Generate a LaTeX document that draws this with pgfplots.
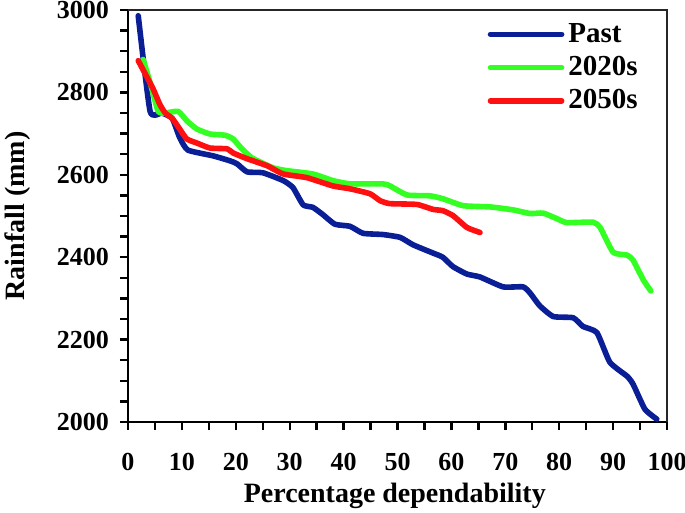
\documentclass[border=0pt]{standalone}
\usepackage{pgfplots}
\pgfplotsset{compat=1.18}
\usepackage{fontspec}
\setmainfont{Liberation Serif}
\definecolor{cpast}{HTML}{0A1E96}
\definecolor{c2020}{HTML}{33FF22}
\definecolor{c2050}{HTML}{FF1010}
\begin{document}
\begin{tikzpicture}
\begin{axis}[
  scale only axis,
  width=269.5pt, height=206pt,
  xmin=0, xmax=100, ymin=2000, ymax=3000,
  xtick={0,10,...,100}, ytick={2000,2200,...,3000},
  minor xtick={5,15,...,95}, minor ytick={2050,2100,...,2950},
  axis x line*=bottom, axis y line*=left,
  tick align=outside,
  major tick length=4pt, minor tick length=4pt,
  tick style={black, line width=1.2pt},
  axis line style={black, line width=1.4pt, -},
  /pgf/number format/assume math mode=true,
  /pgf/number format/1000 sep={},
  ticklabel style={font=\fontsize{13}{15}\selectfont\bfseries},
  xticklabel style={anchor=center, yshift=-16pt},
  yticklabel style={xshift=-2pt},
  xlabel={Percentage dependability},
  ylabel={Rainfall (mm)},
  xlabel style={at={(axis description cs:0.495,-0.18)}, anchor=center},
  ylabel style={at={(axis description cs:-0.205,0.5)}, anchor=center, rotate=0},
  label style={font=\fontsize{14}{16}\selectfont\bfseries},
  legend style={draw=none, fill=none, at={(0.965,0.988)}, anchor=north east,
    font=\fontsize{14.5}{16}\selectfont\bfseries, row sep=1.5pt},
  legend cell align=left,
  legend image code/.code={\draw[#1, line width=2.8pt, line cap=round] (0cm,0cm) -- (1.25cm,0cm);},
]
\addplot[cpast, line width=2.8pt, line cap=round, line join=round, smooth, tension=0.3] coordinates {
(1.9,2986) (4.1,2754) (6.3,2750) (8.2,2737) (9.6,2690) (11.1,2660) (15.8,2646) (18.9,2634) (20.2,2627) (22.1,2607) (25,2605) (28.8,2586) (30.6,2569) (32.5,2527) (34.3,2521) (36,2505) (38.4,2480) (41.2,2475) (43.6,2458) (47.3,2455) (50.5,2448) (52.9,2430) (56.6,2410) (58.4,2400) (60.3,2377) (62.9,2359) (65.3,2352) (69.6,2328) (73.3,2328) (74.6,2313) (76.4,2282) (78.9,2256) (82.6,2253) (84.4,2232) (87,2217) (89.4,2145) (92.6,2111) (93.7,2092) (95.9,2031) (98.1,2007)
};
\addlegendentry{Past}
\addplot[c2020, line width=2.8pt, line cap=round, line join=round, smooth, tension=0.3] coordinates {
(2.8,2880) (4.2,2820) (5.6,2754) (7,2750) (9.3,2754) (11,2730) (12.8,2711) (15.2,2699) (18,2696) (19.5,2687) (21,2665) (23,2641) (26.9,2617) (29.5,2610) (34.3,2602) (38,2586) (41.2,2578) (47.3,2578) (48.6,2573) (51.8,2551) (56,2549) (58.4,2542) (62.2,2525) (67.2,2522) (71.4,2515) (74.6,2506) (77,2507) (79.5,2494) (81.4,2484) (86.3,2485) (87.6,2472) (90,2412) (92.6,2405) (93.7,2393) (95.6,2345) (97,2318)
};
\addlegendentry{2020s}
\addplot[c2050, line width=2.8pt, line cap=round, line join=round, smooth, tension=0.3] coordinates {
(1.9,2877) (4.6,2810) (5.9,2771) (6.9,2750) (8.2,2737) (9.6,2711) (10.9,2687) (12.8,2677) (15.2,2665) (18.4,2663) (19.5,2653) (22.1,2639) (25.8,2622) (28.8,2602) (33.2,2593) (38,2573) (41.2,2566) (44.9,2554) (46.8,2537) (48.6,2530) (53.6,2528) (56.6,2516) (58.4,2513) (60.3,2501) (62.9,2472) (65.3,2460)
};
\addlegendentry{2050s}
\end{axis}
\draw[line width=0.8pt, black!85] (current axis.north west) -- (current axis.north east) -- (current axis.south east);
\pgfresetboundingbox
\path (current axis.south west) ++(-64pt,-45.5pt) coordinate (bbA);
\path (current axis.north east) ++(9pt,5pt) coordinate (bbB);
\useasboundingbox (bbA) rectangle (bbB);
\end{tikzpicture}
\end{document}
